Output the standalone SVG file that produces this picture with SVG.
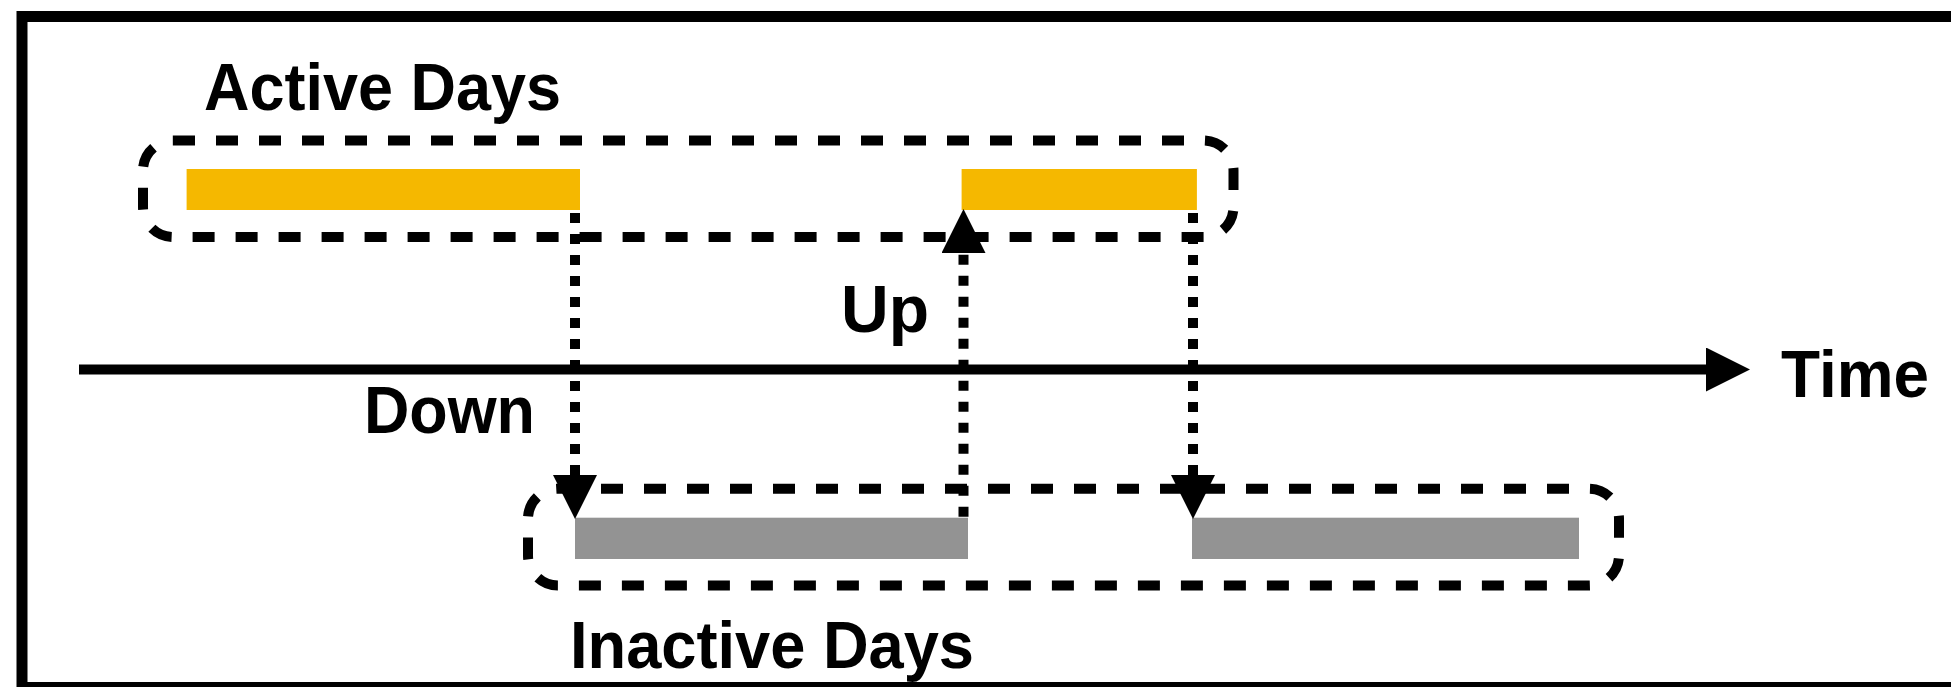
<svg xmlns="http://www.w3.org/2000/svg" width="1951" height="687" viewBox="0 0 1951 687">
  <style>
    .lbl { font-family: "Liberation Sans", Arial, sans-serif; font-weight: bold; font-size: 66px; fill: #000; }
    .group { fill: none; stroke: #000; stroke-width: 10; stroke-dasharray: 22 21; }
    .active { fill: #F5B800; }
    .inactive { fill: #939393; }
    .dotted { fill: none; stroke: #000; stroke-width: 10; stroke-dasharray: 10 11; }
    .axis { fill: none; stroke: #000; stroke-width: 10; }
  </style>
  <defs>
    <marker id="arrow" viewBox="0 0 44 44" markerWidth="44" markerHeight="44" refX="0" refY="22" orient="auto" markerUnits="userSpaceOnUse">
      <path d="M0,0 L44,22 L0,44 z" fill="#000"/>
    </marker>
  </defs>
  <rect x="0" y="0" width="1951" height="687" fill="#fff"/>
  <rect x="22" y="16.5" width="2000" height="671" fill="none" stroke="#000" stroke-width="11"/>

  <g id="active-days">
    <rect class="group" x="143" y="140.5" width="1090.5" height="96.5" rx="30" ry="30"/>
    <rect class="active" x="186.6" y="169" width="393.4" height="41"/>
    <rect class="active" x="961.6" y="169" width="235.3" height="41"/>
    <text class="lbl" x="204" y="110" textLength="357" lengthAdjust="spacingAndGlyphs">Active Days</text>
  </g>

  <g id="inactive-days">
    <rect class="group" x="528" y="488.7" width="1091" height="96.8" rx="30" ry="30"/>
    <rect class="inactive" x="575" y="517.7" width="393" height="41.3"/>
    <rect class="inactive" x="1192" y="517.7" width="387" height="41.3"/>
    <text class="lbl" x="570" y="668" textLength="404" lengthAdjust="spacingAndGlyphs">Inactive Days</text>
  </g>

  <g id="time-axis">
    <line class="axis" x1="79" y1="369.5" x2="1706" y2="369.5" marker-end="url(#arrow)"/>
    <text class="lbl" x="1781" y="396.5" textLength="148" lengthAdjust="spacingAndGlyphs">Time</text>
  </g>

  <g id="connectors">
    <line class="dotted" x1="575" y1="213" x2="575" y2="475" marker-end="url(#arrow)"/>
    <line class="dotted" x1="963.5" y1="516.7" x2="963.5" y2="253" marker-end="url(#arrow)"/>
    <line class="dotted" x1="1193" y1="213" x2="1193" y2="475" marker-end="url(#arrow)"/>
    <text class="lbl" x="364" y="432.5" textLength="171" lengthAdjust="spacingAndGlyphs">Down</text>
    <text class="lbl" x="841" y="332" textLength="88" lengthAdjust="spacingAndGlyphs">Up</text>
  </g>
</svg>
